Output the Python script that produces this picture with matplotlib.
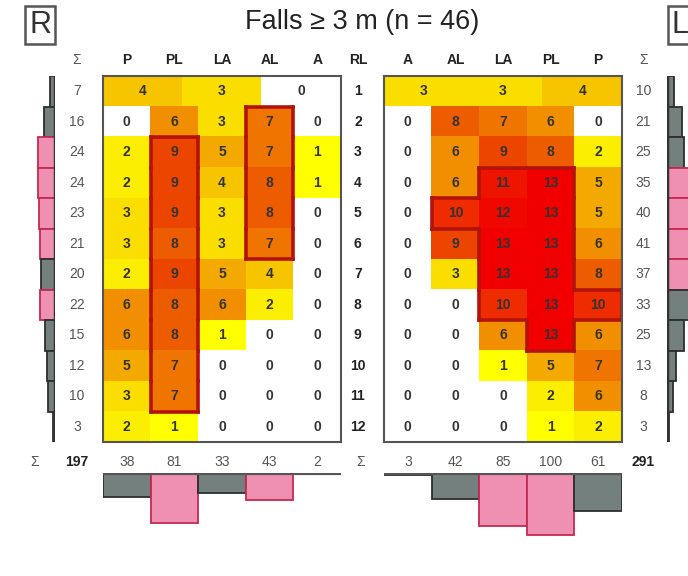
import numpy as np
import matplotlib.pyplot as plt
from matplotlib.colors import LinearSegmentedColormap
from matplotlib.collections import LineCollection

plt.rcParams['font.family'] = ['Liberation Sans', 'DejaVu Sans']

TITLE = "Falls \u2265 3 m (n = 46)"

# right foot columns run posterior -> anterior, left foot mirrored
R_COLS = ["P", "PL", "LA", "AL", "A"]
L_COLS = ["A", "AL", "LA", "PL", "P"]
LEVELS = list(range(1, 13))

# level 1 only has three segments (first, middle and last column)
TOP_COLS = [0, 2, 4]
R_TOP = [4, 3, 0]
L_TOP = [3, 3, 4]

# levels 2..12
R_COUNTS = [
    [0, 6, 3, 7, 0],
    [2, 9, 5, 7, 1],
    [2, 9, 4, 8, 1],
    [3, 9, 3, 8, 0],
    [3, 8, 3, 7, 0],
    [2, 9, 5, 4, 0],
    [6, 8, 6, 2, 0],
    [6, 8, 1, 0, 0],
    [5, 7, 0, 0, 0],
    [3, 7, 0, 0, 0],
    [2, 1, 0, 0, 0],
]
L_COUNTS = [
    [0, 8, 7, 6, 0],
    [0, 6, 9, 8, 2],
    [0, 6, 11, 13, 5],
    [0, 10, 12, 13, 5],
    [0, 9, 13, 13, 6],
    [0, 3, 13, 13, 8],
    [0, 0, 10, 13, 10],
    [0, 0, 6, 13, 6],
    [0, 0, 1, 5, 7],
    [0, 0, 0, 2, 6],
    [0, 0, 0, 1, 2],
]

# clusters of frequently involved segments (level, column)
R_CLUSTER = [(lv, "PL") for lv in [3, 4, 5, 6, 7, 8, 9, 10, 11]] + \
            [(lv, "AL") for lv in [2, 3, 4, 5, 6]]
L_CLUSTER = [(4, "LA"), (4, "PL"), (5, "AL"), (5, "LA"), (5, "PL"),
             (6, "LA"), (6, "PL"), (7, "LA"), (7, "PL"),
             (8, "LA"), (8, "PL"), (8, "P"), (9, "PL")]

# marginal bars flagged as over-represented
R_ROW_HIGH = [0, 0, 1, 1, 1, 1, 0, 1, 0, 0, 0, 0]
L_ROW_HIGH = [0, 0, 0, 1, 1, 1, 1, 0, 0, 0, 0, 0]
R_COL_HIGH = [0, 1, 0, 1, 0]
L_COL_HIGH = [0, 0, 1, 1, 0]

PINK, PINK_EDGE = "#ef8fb1", "#c42a52"
GRAY, GRAY_EDGE = "#74807e", "#2e2e2e"
OUTLINE = "#b3120e"

cmap = LinearSegmentedColormap.from_list(
    "falls", [(0.0, "#ffff00"), (0.18, "#f9dc00"), (0.4, "#f39400"),
              (0.65, "#ec4a00"), (0.85, "#f01000"), (1.0, "#f20000")])


def to_rgb(arr):
    arr = np.asarray(arr, dtype=float)
    rgb = cmap(np.clip((arr - 1) / 12.0, 0, 1))
    rgb[arr == 0] = (1, 1, 1, 1)
    return rgb


W, H = 688, 576
fig = plt.figure(figsize=(W / 100, H / 100), dpi=100)


def px_axes(x0, y0, x1, y1):
    return fig.add_axes([x0 / W, 1 - y1 / H, (x1 - x0) / W, (y1 - y0) / H])


def cluster_edges(cluster, cols):
    cells = {(lv - 1, cols.index(c)) for lv, c in cluster}
    segs = []
    for r, c in cells:
        if (r - 1, c) not in cells:
            segs.append([(c - 0.5, r - 0.5), (c + 0.5, r - 0.5)])
        if (r + 1, c) not in cells:
            segs.append([(c - 0.5, r + 0.5), (c + 0.5, r + 0.5)])
        if (r, c - 1) not in cells:
            segs.append([(c - 0.5, r - 0.5), (c - 0.5, r + 0.5)])
        if (r, c + 1) not in cells:
            segs.append([(c + 0.5, r - 0.5), (c + 0.5, r + 0.5)])
    return segs


FS = 10


def draw_grid(ax, top, counts, cols, cluster):
    counts = np.array(counts)
    ax.imshow(to_rgb([top]), extent=(-0.5, 4.5, 0.5, -0.5),
              interpolation="nearest", aspect="auto")
    ax.imshow(to_rgb(counts), extent=(-0.5, 4.5, 11.5, 0.5),
              interpolation="nearest", aspect="auto")
    ax.set_xlim(-0.5, 4.5)
    ax.set_ylim(11.5, -0.5)
    ax.set_xticks([])
    ax.set_yticks([])
    for s in ax.spines.values():
        s.set_color("#555555")
        s.set_linewidth(1.5)
    tc = {"fontsize": FS, "fontweight": "bold", "color": "#333333",
          "ha": "center", "va": "center"}
    for i, v in enumerate(top):
        ax.text(-0.5 + (i + 0.5) * 5 / 3, 0, str(v), **tc)
    for r in range(counts.shape[0]):
        for c in range(counts.shape[1]):
            ax.text(c, r + 1, str(counts[r, c]), **tc)
    ax.add_collection(LineCollection(cluster_edges(cluster, cols),
                                     colors=OUTLINE, linewidths=2.6,
                                     capstyle="projecting"))
    for c, name in enumerate(cols):
        ax.text(c, -1.03, name, ha="center", va="center", fontsize=FS,
                fontweight="bold", color="#222222")
    row_sums = [sum(top)] + list(counts.sum(axis=1))
    col_sums = counts.sum(axis=0)
    for i, v in zip(TOP_COLS, top):
        col_sums[i] += v
    return row_sums, col_sums


# right foot
ax_r = px_axes(103, 76, 341, 442)
r_rows, r_cols = draw_grid(ax_r, R_TOP, R_COUNTS, R_COLS, R_CLUSTER)
# left foot
ax_l = px_axes(384, 76, 622, 442)
l_rows, l_cols = draw_grid(ax_l, L_TOP, L_COUNTS, L_COLS, L_CLUSTER)

num = {"fontsize": FS, "color": "#555555", "ha": "center", "va": "center"}
bold = {"fontsize": FS, "fontweight": "bold", "color": "#222222",
        "ha": "center", "va": "center"}
ax_r.text(-1.05, -1.03, "\u03a3", **num)
for r, v in enumerate(r_rows):
    ax_r.text(-1.05, r, str(v), **num)
ax_r.text(-1.93, 12.15, "\u03a3", **num)
ax_r.text(-1.05, 12.15, str(sum(r_rows)), **bold)
for c, v in enumerate(r_cols):
    ax_r.text(c, 12.15, str(v), **num)

ax_l.text(-1.05, -1.03, "RL", **bold)
for r, lv in enumerate(LEVELS):
    ax_l.text(-1.05, r, str(lv), **bold)
ax_l.text(-1.0, 12.15, "\u03a3", **num)
ax_l.text(4.95, -1.03, "\u03a3", **num)
for r, v in enumerate(l_rows):
    ax_l.text(4.95, r, str(v), **num)
for c, v in enumerate(l_cols):
    ax_l.text(c, 12.15, str(v), **num)
ax_l.text(4.95, 12.15, str(sum(l_rows)), **bold)


def bar_style(flags):
    fc = [PINK if f else GRAY for f in flags]
    ec = [PINK_EDGE if f else GRAY_EDGE for f in flags]
    return fc, ec


# column totals hanging below each grid
for (x0, x1), sums, flags in [((103, 341), r_cols, R_COL_HIGH),
                              ((384, 622), l_cols, L_COL_HIGH)]:
    ax = px_axes(x0, 473, x1, 540)
    fc, ec = bar_style(flags)
    ax.bar(range(5), sums, width=1.0, color=fc, edgecolor=ec, linewidth=1.3)
    ax.axhline(0, color="#555555", lw=3)
    ax.set_xlim(-0.5, 4.5)
    ax.set_ylim(108, 0)
    ax.axis("off")

# level totals beside each grid
for (x0, x1), sums, flags, lims in [((30, 55), r_rows, R_ROW_HIGH, (36, 0)),
                                    ((667, 692), l_rows, L_ROW_HIGH, (0, 36))]:
    ax = px_axes(x0, 76, x1, 442)
    fc, ec = bar_style(flags)
    ax.barh(range(12), sums, height=1.0, color=fc, edgecolor=ec,
            linewidth=1.3)
    ax.axvline(0, color="#333333", lw=2.5)
    ax.set_ylim(11.5, -0.5)
    ax.set_xlim(*lims)
    ax.axis("off")

fig.text(362 / W, 1 - 22 / H, TITLE, ha="center", va="center",
         fontsize=19.5, color="#222222")
box = dict(boxstyle="square,pad=0.12", facecolor="white",
           edgecolor="#555555", linewidth=1.8)
fig.text(40 / W, 1 - 25 / H, "R", ha="center", va="center", fontsize=22,
         color="#333333", bbox=box)
fig.text(672 / W, 1 - 25 / H, "L", ha="left", va="center", fontsize=22,
         color="#333333", bbox=box)

fig.savefig("out.png", dpi=100)
